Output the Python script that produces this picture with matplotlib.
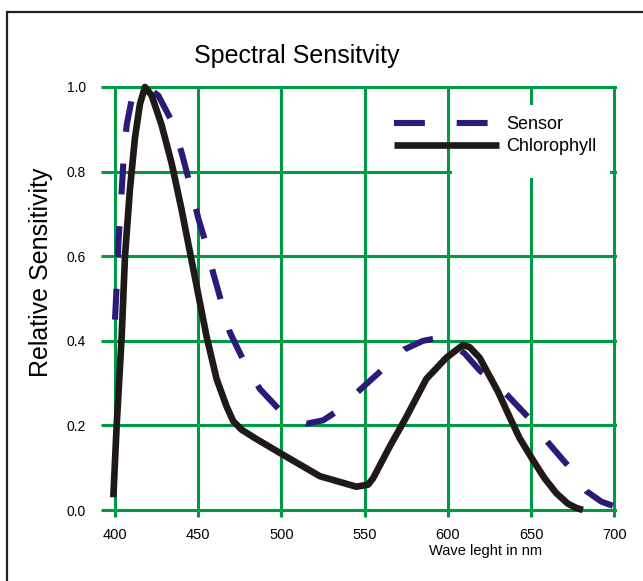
import numpy as np
import matplotlib.pyplot as plt
from matplotlib.patches import Rectangle

plt.rcParams['font.family'] = ['Liberation Sans', 'DejaVu Sans']

# sensor curve (dashed)
sensor_nm = [400, 401, 402, 403.5, 405, 407, 410, 414, 419, 426, 434, 440, 445, 450, 455,
             459, 464, 469, 477, 487, 499, 507, 515, 525, 532, 546, 560, 574, 585, 592,
             600, 610, 619, 628, 636, 648, 660, 672, 683, 692, 699]
sensor_val = [0.45, 0.53, 0.63, 0.72, 0.82, 0.91, 0.97, 0.995, 1.0, 0.98, 0.92, 0.845, 0.77, 0.69, 0.625,
              0.56, 0.49, 0.42, 0.355, 0.286, 0.236, 0.215, 0.204, 0.212, 0.23, 0.28, 0.33, 0.38, 0.40, 0.405,
              0.40, 0.37, 0.33, 0.30, 0.27, 0.22, 0.16, 0.105, 0.045, 0.02, 0.01]

# chlorophyll curve (solid)
chl_nm = [399, 401, 404, 406, 409, 412, 415, 418, 422, 428, 434, 440, 445, 450, 455, 461, 467,
          471, 476, 484, 499, 523, 545, 552, 555, 565, 575, 587, 599, 609, 613, 619, 630, 637,
          643, 651, 658, 665, 672, 677, 681]
chl_val = [0.03, 0.2, 0.41, 0.6, 0.76, 0.88, 0.96, 1.0, 0.98, 0.91, 0.82, 0.71, 0.61, 0.51, 0.41, 0.31, 0.245,
           0.21, 0.19, 0.17, 0.135, 0.08, 0.055, 0.06, 0.075, 0.15, 0.22, 0.31, 0.36, 0.39, 0.385, 0.36, 0.28, 0.22,
           0.17, 0.118, 0.075, 0.04, 0.015, 0.005, 0.0]

xticks = [400, 450, 500, 550, 600, 650, 700]
yticks = [0.0, 0.2, 0.4, 0.6, 0.8, 1.0]
ylabels = ['0.0', '0.2', '0.4', '0.6', '0.8', '1.0']

green = '#009a44'
W, H = 643, 581

fig = plt.figure(figsize=(W/100, H/100), dpi=100)
ax = fig.add_axes([115/W, 1-510/H, 499.5/W, 423/H])

ax.set_xlim(400, 700)
ax.set_ylim(0, 1)
ax.set_xticks(xticks)
ax.set_yticks(yticks)
ax.set_yticklabels(ylabels)
for s in ax.spines.values():
    s.set_visible(False)
ax.grid(True, color=green, lw=2.2)
for gl in ax.get_xgridlines() + ax.get_ygridlines():
    gl.set_clip_on(False)
ax.tick_params(axis='y', length=10, width=2.2, color=green, pad=11, labelsize=10)
ax.tick_params(axis='x', length=5, width=2.2, color=green, pad=8, labelsize=10.5)

# white patch behind legend text
ax.add_patch(Rectangle((452/W, 1-178/H), 158/W, 73/H, transform=fig.transFigure,
                       facecolor='white', edgecolor='none', zorder=1.8))

# dash pattern: 17 dashes along the sensor curve, ending on a dash
lw_s = 4.4
pts = ax.transData.transform(np.column_stack([sensor_nm, sensor_val]))
L = np.hypot(*np.diff(pts, axis=0).T).sum() * 72 / fig.dpi
gap_ratio = 1.03
dash = L / (17 + 16 * gap_ratio)
ax.plot(sensor_nm, sensor_val, color='#2a1b78', lw=lw_s,
        dashes=(dash / lw_s, dash * gap_ratio / lw_s),
        clip_on=False, zorder=3, label='Sensor')
ax.plot(chl_nm, chl_val, color='#1f1a17', lw=4.8, solid_capstyle='butt',
        solid_joinstyle='round', clip_on=False, zorder=4, label='Chlorophyll')

ax.legend(loc='upper left', bbox_to_anchor=(394/W, 1-116/H), bbox_transform=fig.transFigure,
          frameon=False, fontsize=13, handlelength=5.8, handletextpad=0.4,
          borderpad=0, borderaxespad=0, labelspacing=0.28)

fig.text(297/W, 1-63/H, 'Spectral Sensitvity', ha='center', va='baseline', fontsize=18)
fig.text(41/W, 1-272/H, 'Relative Sensitivity', rotation=90, ha='center', va='center', fontsize=18)
fig.text(486/W, 1-555/H, 'Wave leght in nm', ha='center', va='baseline', fontsize=10.5)

# outer frame
fig.add_artist(Rectangle((7/W, -0.1), 1.2, 1-12/H+0.1, transform=fig.transFigure,
                         fill=False, lw=1.6, edgecolor='#222222'))

fig.savefig('out.png', dpi=100)
